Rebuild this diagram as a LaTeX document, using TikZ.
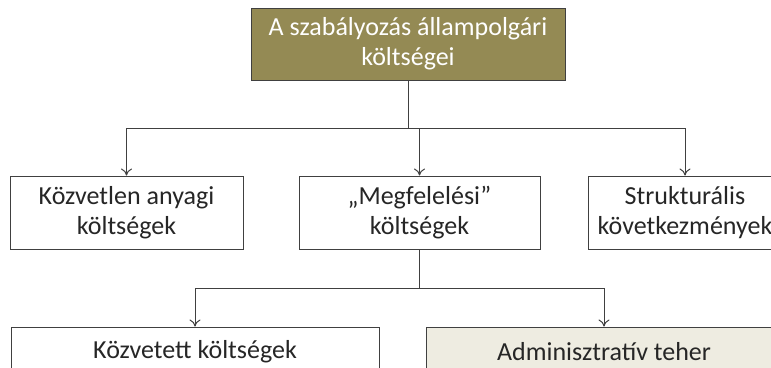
\documentclass[tikz,border=0pt]{standalone}
\usepackage{fontspec}
\setmainfont{Carlito}
\usetikzlibrary{arrows.meta}
\definecolor{olive}{HTML}{948A54}
\definecolor{tan}{HTML}{EEECE1}
\definecolor{edge}{HTML}{404040}
\tikzset{
  box/.style={draw=edge, line width=1pt, rectangle, align=center, inner sep=0pt,
    font=\fontsize{26}{30}\selectfont, text=black!85},
  conn/.style={draw=edge, line width=1pt, -{To[length=7pt,width=11pt]}},
}
\begin{document}
\begin{tikzpicture}[x=1pt,y=-1pt]
\useasboundingbox (0,0) rectangle (771,367);
\clip (0,0) rectangle (771,367);
\node[box, fill=olive, text=white, minimum width=314pt, minimum height=72pt] (top) at (408,44)
  {A szabályozás állampolgári\\költségei};
\node[box, fill=white, minimum width=233pt, minimum height=73pt] (left) at (126.5,212.5)
  {Közvetlen anyagi\\költségek};
\node[box, fill=white, minimum width=241pt, minimum height=73pt] (mid) at (419.5,212.5)
  {„Megfelelési”\\költségek};
\node[box, fill=white, minimum width=194pt, minimum height=73pt] (right) at (685,212.5)
  {Strukturális\\következmények};
\node[box, fill=white, minimum width=368pt, minimum height=50pt] (bl) at (195,352)
  {Közvetett költségek};
\node[box, fill=tan, minimum width=356pt, minimum height=50pt] (br) at (604,352)
  {Adminisztratív teher};
\coordinate (bus1) at (0,128);
\coordinate (bus2) at (0,288);
\draw[conn] (top.south) -- (top.south |- bus1) -| (left.north);
\draw[conn] (top.south) -- (top.south |- bus1) -| (mid.north);
\draw[conn] (top.south) -- (top.south |- bus1) -| (right.north);
\draw[conn] (mid.south) -- (mid.south |- bus2) -| (bl.north);
\draw[conn] (mid.south) -- (mid.south |- bus2) -| (br.north);
\end{tikzpicture}
\end{document}
